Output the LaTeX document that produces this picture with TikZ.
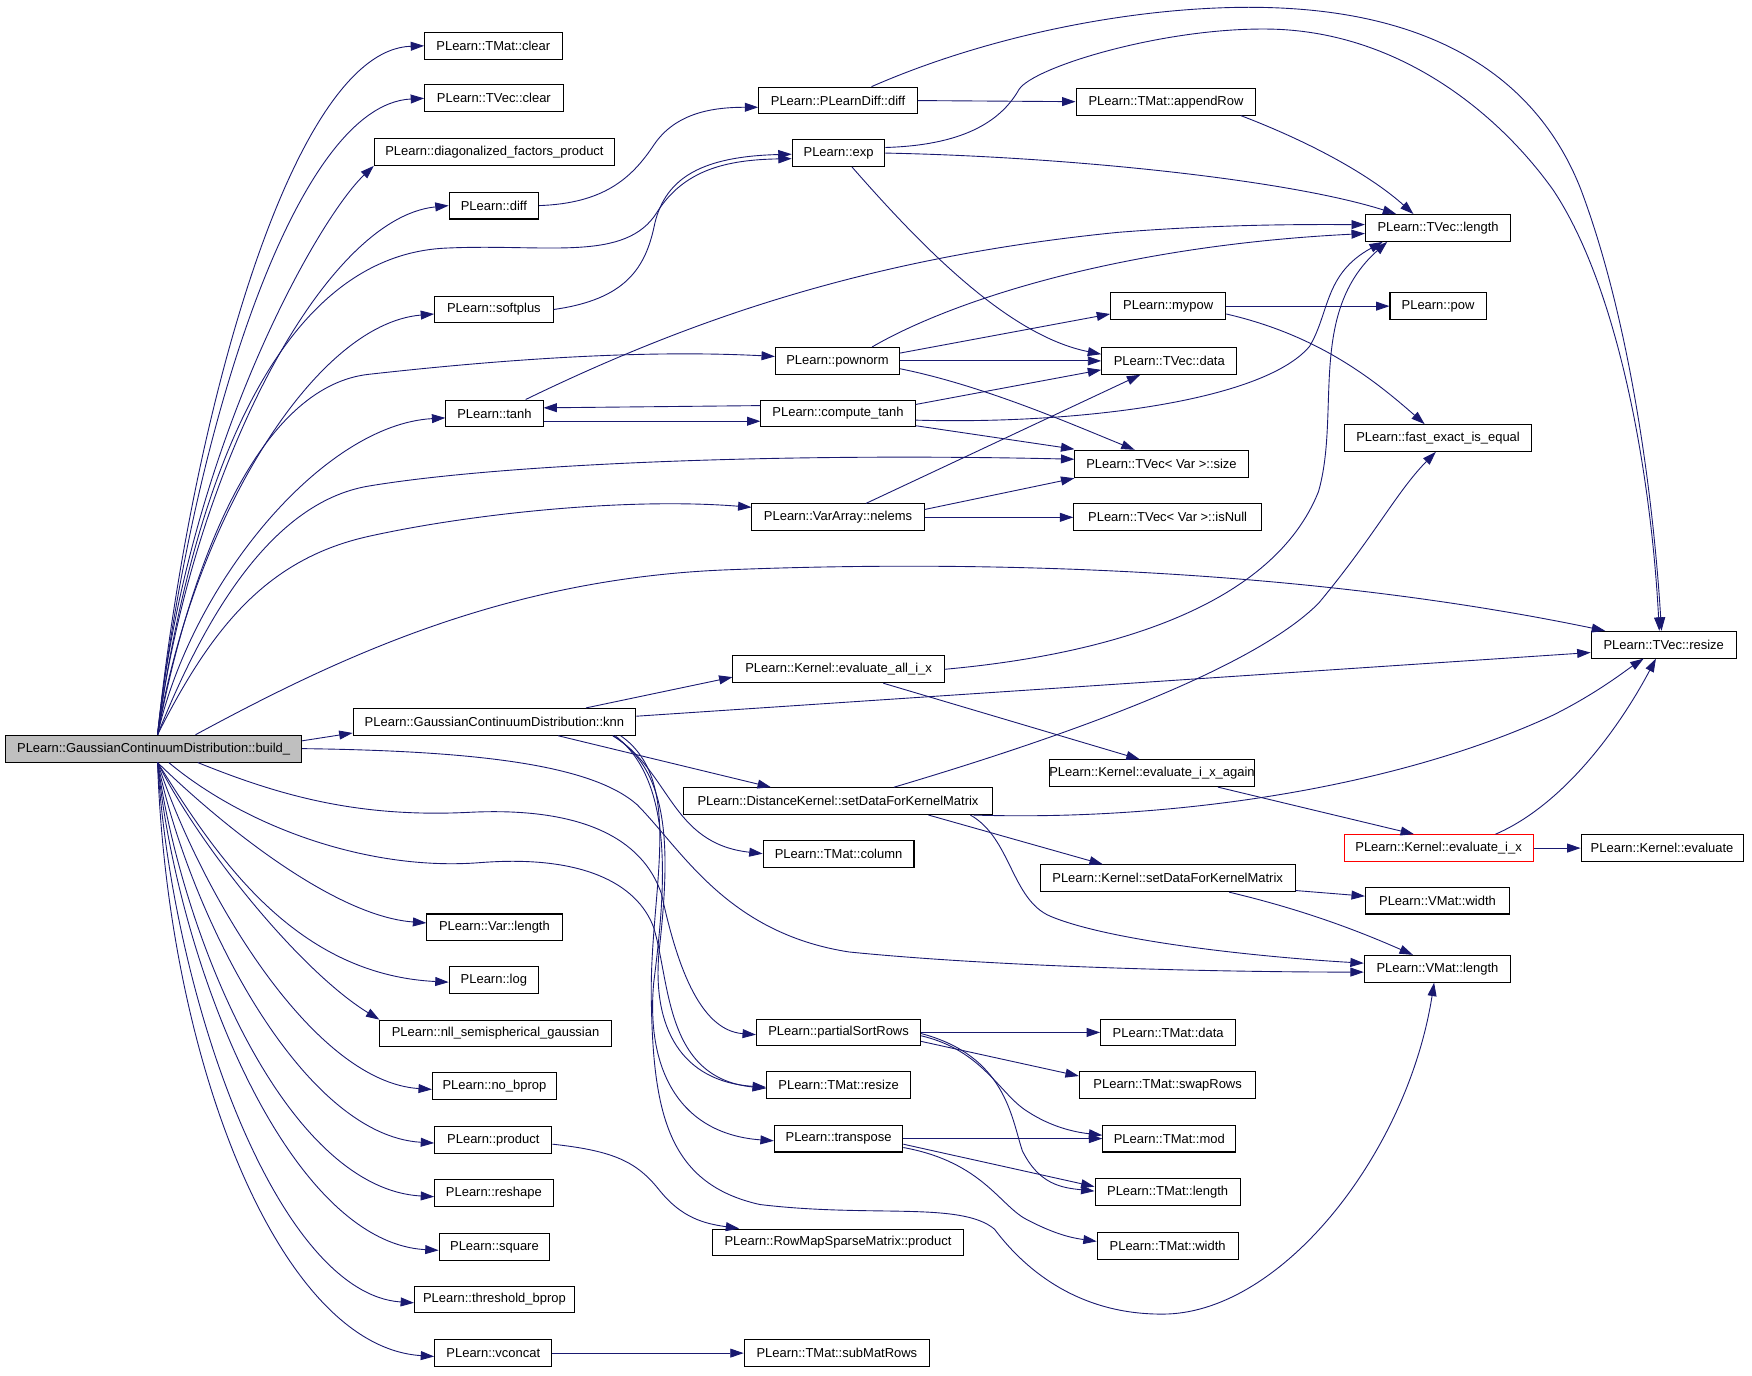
\documentclass[tikz,border=0pt]{standalone}
\usepackage{fontspec}
\setmainfont{Liberation Sans}
\usetikzlibrary{arrows.meta,calc}
\definecolor{edgec}{RGB}{25,25,112}
\definecolor{rootfill}{RGB}{191,191,191}
\begin{document}
\begin{tikzpicture}[x=1pt,y=-1pt,
  box/.style={draw=black, line width=0.9pt, fill=white, minimum height=24pt, inner sep=0pt, font=\fontsize{11.6}{13}\selectfont},
  e/.style={draw=edgec, line width=0.8pt, -{Triangle[length=12pt,width=8pt]}}]
\useasboundingbox (0,0) rectangle (1568,1231);
% nodes
\node[box,minimum width=265pt,fill=rootfill] (b) at (137.5,670) {PLearn::GaussianContinuumDistribution::build\_};
\node[box,minimum width=123pt] (tmatclear) at (441.5,41) {PLearn::TMat::clear};
\node[box,minimum width=124pt] (tvecclear) at (442,88) {PLearn::TVec::clear};
\node[box,minimum width=215pt] (diag) at (442.5,136) {PLearn::diagonalized\_factors\_product};
\node[box,minimum width=80pt] (diff) at (442,184) {PLearn::diff};
\node[box,minimum width=106pt] (softplus) at (442,277) {PLearn::softplus};
\node[box,minimum width=87pt] (tanh) at (442.5,370) {PLearn::tanh};
\node[box,minimum width=111pt] (pownorm) at (749.5,323) {PLearn::pownorm};
\node[box,minimum width=138pt] (ctanh) at (750,370) {PLearn::compute\_tanh};
\node[box,minimum width=83pt] (exp) at (750.5,137) {PLearn::exp};
\node[box,minimum width=142pt] (pldiff) at (750,90) {PLearn::PLearnDiff::diff};
\node[box,minimum width=154pt] (nelems) at (750,463) {PLearn::VarArray::nelems};
\node[box,minimum width=161pt] (append) at (1043.5,91) {PLearn::TMat::appendRow};
\node[box,minimum width=130pt] (tvlen) at (1287,204) {PLearn::TVec::length};
\node[box,minimum width=103pt] (mypow) at (1045.5,274) {PLearn::mypow};
\node[box,minimum width=86pt] (pow) at (1287,274) {PLearn::pow};
\node[box,minimum width=121pt] (tvdata) at (1046.5,323) {PLearn::TVec::data};
\node[box,minimum width=168pt] (fast) at (1287,392) {PLearn::fast\_exact\_is\_equal};
\node[box,minimum width=155pt] (size) at (1039.5,415) {PLearn::TVec< Var >::size};
\node[box,minimum width=168pt] (isnull) at (1045,463) {PLearn::TVec< Var >::isNull};
\node[box,minimum width=130pt] (resize) at (1489,577) {PLearn::TVec::resize};
\node[box,minimum width=189pt] (evalall) at (750.5,599) {PLearn::Kernel::evaluate\_all\_i\_x};
\node[box,minimum width=253pt] (knn) at (442.5,646) {PLearn::GaussianContinuumDistribution::knn};
\node[box,minimum width=276pt] (dk) at (750,717) {PLearn::DistanceKernel::setDataForKernelMatrix};
\node[box,minimum width=176pt] (again) at (1031,692) {PLearn::Kernel::evaluate\_i\_x\_again};
\node[box,minimum width=169pt,draw=red] (evalix) at (1287.5,759) {PLearn::Kernel::evaluate\_i\_x};
\node[box,minimum width=145pt] (evaluate) at (1487.5,759) {PLearn::Kernel::evaluate};
\node[box,minimum width=135pt] (column) at (750.5,764) {PLearn::TMat::column};
\node[box,minimum width=228pt] (ksd) at (1045,786) {PLearn::Kernel::setDataForKernelMatrix};
\node[box,minimum width=129pt] (vwidth) at (1286.5,806) {PLearn::VMat::width};
\node[box,minimum width=131pt] (vlen) at (1286.5,867) {PLearn::VMat::length};
\node[box,minimum width=121pt] (varlen) at (442.5,830) {PLearn::Var::length};
\node[box,minimum width=80pt] (log) at (442,877) {PLearn::log};
\node[box,minimum width=207pt] (nll) at (443.5,925) {PLearn::nll\_semispherical\_gaussian};
\node[box,minimum width=111pt] (nobprop) at (442.5,972) {PLearn::no\_bprop};
\node[box,minimum width=147pt] (psr) at (750.5,924) {PLearn::partialSortRows};
\node[box,minimum width=121pt] (tmdata) at (1045.5,924) {PLearn::TMat::data};
\node[box,minimum width=129pt] (tmresize) at (750.5,971) {PLearn::TMat::resize};
\node[box,minimum width=158pt] (swap) at (1045,971) {PLearn::TMat::swapRows};
\node[box,minimum width=105pt] (product) at (441.5,1020) {PLearn::product};
\node[box,minimum width=115pt] (transpose) at (750.5,1019) {PLearn::transpose};
\node[box,minimum width=119pt] (mod) at (1046.5,1019) {PLearn::TMat::mod};
\node[box,minimum width=106pt] (reshape) at (442,1068) {PLearn::reshape};
\node[box,minimum width=130pt] (tmlen) at (1045,1067) {PLearn::TMat::length};
\node[box,minimum width=99pt] (square) at (442.5,1116) {PLearn::square};
\node[box,minimum width=224pt] (rowmap) at (750,1112) {PLearn::RowMapSparseMatrix::product};
\node[box,minimum width=126pt] (tmwidth) at (1045,1115) {PLearn::TMat::width};
\node[box,minimum width=143pt] (thresh) at (442.5,1163) {PLearn::threshold\_bprop};
\node[box,minimum width=105pt] (vconcat) at (441.5,1211) {PLearn::vconcat};
\node[box,minimum width=166pt] (submat) at (749,1211) {PLearn::TMat::subMatRows};
\coordinate (bU) at (141,0 |- b.north);
\coordinate (bD) at (141,0 |- b.south);
% upper fan from build_
\draw[e] (bU) .. controls (170,380) and (260,45) .. (tmatclear.west);
\draw[e] (bU) .. controls (170,401) and (261,94) .. (tvecclear.west);
\draw[e] (bU) .. controls (168,400) and (285,195) .. (diag.south west);
\draw[e] (bU) .. controls (172,420) and (290,195) .. (diff.west);
\draw[e] (bU) .. controls (172,430) and (250,228) .. (400,222) .. controls (490,218) and (560,235) .. (588,190) .. controls (612,152) and (650,143) .. ([yshift=-5pt]exp.west);
\draw[e] (bU) .. controls (172,470) and (280,290) .. ([yshift=-4pt]softplus.west);
\draw[e] (bU) .. controls (175,480) and (240,345) .. (330,335) .. controls (420,325) and (560,312) .. ([yshift=4pt]pownorm.west);
\draw[e] (bU) .. controls (172,520) and (290,380) .. ([yshift=-4pt]tanh.west);
\draw[e] (bU) .. controls (180,560) and (240,450) .. (330,435) .. controls (450,415) and (700,405) .. ([yshift=4pt]size.west);
\draw[e] (bU) .. controls (190,560) and (240,500) .. (330,480) .. controls (420,460) and (560,445) .. ([yshift=9pt]nelems.west);
\draw[e] ([xshift=34pt]bU) .. controls (300,590) and (450,518) .. (650,510) .. controls (850,502) and (1150,505) .. ([xshift=13pt]resize.north west);
\draw[e] ([yshift=7pt]b.east) -- ([yshift=-10pt]knn.west);
\draw[e] (b.east) .. controls (430,672) and (530,685) .. (570,720) .. controls (610,760) and (650,835) .. (760,852) .. controls (900,866) and (1100,870) .. ([yshift=-3pt]vlen.west);
% lower fan from build_
\draw[e] (bD) .. controls (200,740) and (300,820) .. ([yshift=4pt]varlen.west);
\draw[e] (bD) .. controls (190,760) and (260,872) .. ([yshift=-2pt]log.west);
\draw[e] (bD) .. controls (180,760) and (270,870) .. (nll.north west);
\draw[e] (bD) .. controls (180,800) and (280,968) .. ([yshift=-3pt]nobprop.west);
\draw[e] (bD) .. controls (170,820) and (270,1016) .. ([yshift=-3pt]product.west);
\draw[e] (bD) .. controls (165,850) and (260,1064) .. ([yshift=-3pt]reshape.west);
\draw[e] (bD) .. controls (160,870) and (260,1112) .. ([yshift=-3pt]square.west);
\draw[e] (bD) .. controls (155,900) and (250,1158) .. ([yshift=-3pt]thresh.west);
\draw[e] (bD) .. controls (150,950) and (250,1205) .. ([yshift=-3pt]vconcat.west);
\draw[e] ([xshift=36pt]bD) .. controls (250,712) and (320,732) .. (420,727) .. controls (520,722) and (575,750) .. (592,800) .. controls (605,860) and (625,922) .. ([yshift=-2pt]psr.west);
\draw[e] ([xshift=10pt]bD) .. controls (220,740) and (330,780) .. (430,772) .. controls (520,765) and (570,790) .. (585,830) .. controls (600,880) and (595,965) .. ([yshift=-3pt]tmresize.west);
% knn
\draw[e] ([xshift=-21pt]knn.south east) .. controls (600,690) and (600,760) .. (590,850) .. controls (583,920) and (610,968) .. ([yshift=-2pt]tmresize.west);
\draw[e] ([xshift=-19pt]knn.south east) .. controls (605,700) and (595,800) .. (585,880) .. controls (578,960) and (610,1015) .. ([yshift=-2pt]transpose.west);
\draw[e] ([xshift=-14pt]knn.south east) .. controls (615,700) and (580,800) .. (583,900) .. controls (585,1000) and (600,1060) .. (680,1078) .. controls (780,1090) and (860,1075) .. (890,1100) .. controls (920,1140) and (970,1178) .. (1045,1176) .. controls (1150,1172) and (1260,1030) .. ([xshift=-3pt]vlen.south);
\draw[e] ([xshift=-21pt]knn.south east) .. controls (600,690) and (600,755) .. (column.west);
\draw[e] ([xshift=82pt]knn.north) -- ([yshift=-7pt]evalall.west);
\draw[e] ([yshift=5pt]knn.east) -- ([yshift=-7pt]resize.west);
\draw[e] ([xshift=57pt]knn.south) -- ([xshift=-60pt]dk.north);
% second column
\draw[e] (diff.east) .. controls (540,182) and (565,160) .. (585,130) .. controls (605,100) and (640,96) .. ([yshift=-6pt]pldiff.west);
\draw[e] (softplus.east) .. controls (560,268) and (578,240) .. (586,200) .. controls (596,158) and (630,140) .. ([yshift=-1pt]exp.west);
\draw[e] (pldiff.east) -- (append.west);
\draw[e] ([xshift=30pt]pldiff.north) .. controls (900,25) and (1050,0) .. (1160,8) .. controls (1300,18) and (1380,80) .. (1415,170) .. controls (1460,290) and (1480,450) .. ([xshift=-2pt]resize.north);
\draw[e] ([yshift=5pt]exp.east) .. controls (860,130) and (895,110) .. (912,80) .. controls (925,60) and (1040,25) .. (1134,26) .. controls (1250,27) and (1340,100) .. (1390,170) .. controls (1450,260) and (1478,430) .. ([xshift=-4pt]resize.north);
\draw[e] (exp.east) .. controls (950,140) and (1150,160) .. ([xshift=28pt]tvlen.north west);
\draw[e] ([xshift=12pt]exp.south) .. controls (820,215) and (900,300) .. ([yshift=6pt]tvdata.west);
\draw[e] ([xshift=-14pt]append.south east) .. controls (1180,130) and (1230,160) .. ([xshift=-22pt]tvlen.north);
\draw[e] ([xshift=-25pt]pownorm.north east) .. controls (850,270) and (1000,220) .. ([yshift=-5pt]tvlen.west);
\draw[e] ([xshift=-16pt]tanh.north east) .. controls (620,285) and (780,230) .. (1000,208) .. controls (1100,200) and (1180,201) .. ([yshift=3pt]tvlen.west);
\draw[e] ([yshift=-6pt]ctanh.east) .. controls (960,380) and (1130,360) .. (1172,310) .. controls (1190,280) and (1185,245) .. ([xshift=16pt]tvlen.south west);
\draw[e] (evalall.east) .. controls (1000,585) and (1140,540) .. (1180,440) .. controls (1200,370) and (1170,280) .. ([xshift=20pt]tvlen.south west);
\draw[e] ([yshift=7pt]pownorm.east) -- ([yshift=-7pt]mypow.west);
\draw[e] (pownorm.east) -- (tvdata.west);
\draw[e] ([yshift=-7pt]pownorm.east) .. controls (880,345) and (960,380) .. ([xshift=-24pt]size.north);
\draw[e] (mypow.east) -- (pow.west);
\draw[e] ([yshift=-7pt]mypow.east) .. controls (1180,300) and (1230,340) .. ([xshift=-12pt]fast.north);
\draw[e] ([yshift=7pt]ctanh.west) -- ([yshift=5pt]tanh.east);
\draw[e] ([yshift=-7pt]tanh.east) -- ([yshift=-7pt]ctanh.west);
\draw[e] ([yshift=8pt]ctanh.east) -- ([yshift=-8pt]tvdata.west);
\draw[e] ([yshift=-11pt]ctanh.east) -- ([yshift=13pt]size.west);
\draw[e] ([xshift=25pt]nelems.north) -- ([xshift=-26pt]tvdata.south);
\draw[e] ([yshift=7pt]nelems.east) -- ([yshift=-13pt]size.west);
\draw[e] (nelems.east) -- (isnull.west);
\draw[e] ([xshift=40pt]evalall.south) -- ([xshift=-11pt]again.north);
\draw[e] ([xshift=50pt]dk.north) .. controls (950,660) and (1120,600) .. (1180,540) .. controls (1230,480) and (1250,440) .. ([xshift=-2pt]fast.south);
\draw[e] ([xshift=-17pt]dk.south east) .. controls (1050,735) and (1250,705) .. (1390,640) .. controls (1430,620) and (1455,600) .. ([xshift=-18pt]resize.south);
\draw[e] ([xshift=81pt]dk.south) -- ([xshift=-58pt]ksd.north);
\draw[e] ([xshift=-20pt]dk.south east) .. controls (905,750) and (905,805) .. (940,820) .. controls (1000,845) and (1150,858) .. ([yshift=5pt]vlen.west);
\draw[e] ([xshift=59pt]again.south) -- ([xshift=-22pt]evalix.north);
\draw[e] ([xshift=51pt]evalix.north) .. controls (1400,720) and (1450,650) .. ([xshift=-7pt]resize.south);
\draw[e] (evalix.east) -- (evaluate.west);
\draw[e] ([yshift=-11pt]ksd.east) -- ([yshift=4pt]vwidth.west);
\draw[e] ([xshift=55pt]ksd.south) .. controls (1170,815) and (1220,835) .. ([xshift=-22pt]vlen.north);
\draw[e] (psr.east) -- (tmdata.west);
\draw[e] ([yshift=-8pt]psr.east) -- ([yshift=8pt]swap.west);
\draw[e] ([yshift=-3pt]psr.east) .. controls (880,940) and (895,980) .. (920,995) .. controls (940,1008) and (960,1013) .. ([yshift=3pt]mod.west);
\draw[e] ([yshift=-1pt]psr.east) .. controls (900,945) and (905,1000) .. (915,1030) .. controls (930,1060) and (950,1063) .. ([yshift=1pt]tmlen.west);
\draw[e] (transpose.east) -- (mod.west);
\draw[e] ([yshift=-5pt]transpose.east) -- ([yshift=5pt]tmlen.west);
\draw[e] ([yshift=-8pt]transpose.east) .. controls (880,1040) and (895,1080) .. (920,1092) .. controls (945,1105) and (960,1108) .. ([yshift=4pt]tmwidth.west);
\draw[e] ([yshift=-4pt]product.east) .. controls (550,1030) and (570,1040) .. (590,1065) .. controls (610,1090) and (630,1095) .. ([xshift=24pt]rowmap.north west);
\draw[e] (vconcat.east) -- (submat.west);
\end{tikzpicture}
\end{document}
